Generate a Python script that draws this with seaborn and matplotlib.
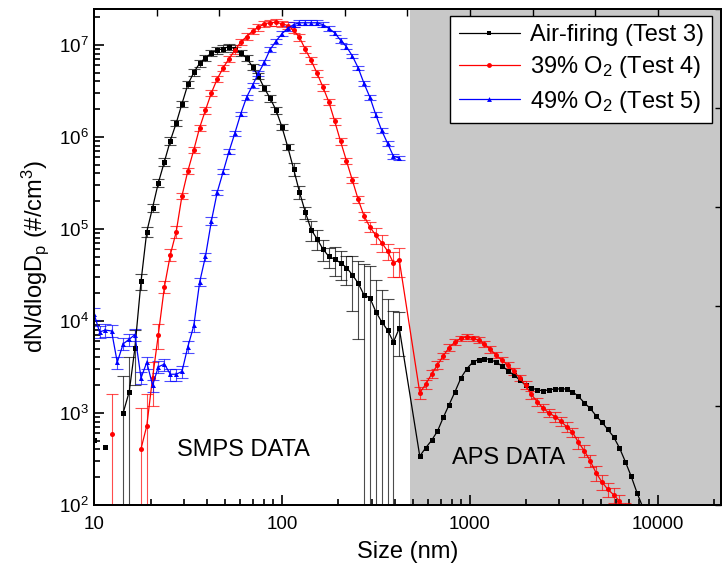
import numpy as np
import pandas as pd
import seaborn as sns
import matplotlib.pyplot as plt
from matplotlib.lines import Line2D
from matplotlib.ticker import NullFormatter, FixedLocator, FixedFormatter

# SMPS channel mid-points (nm), 32 per decade
smps_size = [10.0, 10.7, 11.5, 12.4, 13.3, 14.3, 15.4, 16.5, 17.8, 19.1, 20.5, 22.0, 23.7,
             25.5, 27.4, 29.4, 31.6, 34.0, 36.5, 39.2, 42.2, 45.3, 48.7, 52.3, 56.2, 60.4,
             64.9, 69.8, 75.0, 80.6, 86.6, 93.1, 100.0, 107.5, 115.5, 124.1, 133.4, 143.3,
             154.0, 165.5, 177.8, 191.1, 205.4, 220.7, 237.1, 254.8, 273.8, 294.2, 316.2,
             339.8, 365.2, 392.4, 421.7]
# APS channel mid-points (nm)
aps_size = [542, 583, 626, 673, 723, 777, 835, 898, 965, 1037, 1114, 1197, 1286, 1382,
            1486, 1596, 1715, 1843, 1981, 2129, 2288, 2458, 2642, 2839, 3051, 3278, 3523,
            3786, 4068, 4371, 4698, 5048, 5425, 5829, 6264, 6732, 7234, 7774, 8354, 8977]

nan = np.nan
# log10(dN/dlogDp)
air_smps = [2.70, nan, 2.63, nan, nan, 3.00, 3.23, 3.70, 4.43, 4.97, 5.23, 5.50, 5.73,
            5.96, 6.15, 6.36, 6.57, 6.70, 6.80, 6.86, 6.91, 6.94, 6.96, 6.98, 6.96, 6.91,
            6.86, 6.76, 6.66, 6.53, 6.42, 6.29, 6.11, 5.89, 5.65, 5.40, 5.18, 4.99, 4.89,
            4.78, 4.70, 4.67, 4.63, 4.58, 4.50, 4.41, 4.28, 4.25, 4.10, 3.99, 3.90, 3.77, 3.92]
air_smps_err = [0, 0, 0, 0, 0, 1.5, 1.4, 0.6, 0.2, 0.12, 0.1, 0.1, 0.1,
                0.1, 0.08, 0.08, 0.08, 0.08, 0.08, 0.08, 0.08, 0.08, 0.08, 0.08, 0.08, 0.08,
                0.08, 0.08, 0.08, 0.08, 0.08, 0.08, 0.08, 0.08, 0.15, 0.15, 0.15, 0.25, 0.25,
                0.25, 0.25, 0.35, 0.35, 0.35, 0.6, 0.75, 1.2, 1.2, 1.2, 1.2, 1.2, 1.2, 0.5]
air_aps = [2.53, 2.62, 2.70, 2.80, 2.95, 3.09, 3.23, 3.38, 3.48, 3.55, 3.58, 3.59, 3.58,
           3.55, 3.51, 3.46, 3.41, 3.36, 3.30, 3.27, 3.25, 3.24, 3.25, 3.26, 3.26, 3.26,
           3.23, 3.18, 3.11, 3.05, 2.97, 2.90, 2.82, 2.74, 2.62, 2.47, 2.31, 2.13, 1.97, 1.80]
air_aps_err = [0] * 40

o39_smps = [nan, nan, nan, 2.77, nan, nan, nan, nan, 2.61, 2.86, 3.38, 3.85, 4.37,
            4.72, 4.97, 5.36, 5.63, 5.86, 6.10, 6.29, 6.48, 6.63, 6.75, 6.85, 6.94, 7.03,
            7.09, 7.15, 7.19, 7.23, 7.24, 7.245, 7.23, 7.21, 7.16, 7.08, 6.95, 6.83, 6.69,
            6.54, 6.38, 6.17, 5.95, 5.74, 5.53, 5.32, 5.14, 5.02, 4.93, 4.85, 4.76, 4.63, 4.66]
o39_smps_err = [0, 0, 0, 1.75, 0, 0, 0, 0, 1.75, 1.2, 0.5, 0.3, 0.15,
                0.15, 0.15, 0.08, 0.08, 0.08, 0.08, 0.08, 0.08, 0.08, 0.08, 0.08, 0.08, 0.08,
                0.08, 0.08, 0.08, 0.08, 0.08, 0.08, 0.08, 0.08, 0.08, 0.08, 0.08, 0.08, 0.08,
                0.08, 0.08, 0.08, 0.08, 0.08, 0.08, 0.08, 0.1, 0.12, 0.2, 0.2, 0.2, 0.3, 0.35]
o39_aps = [3.22, 3.31, 3.42, 3.52, 3.62, 3.71, 3.77, 3.81, 3.83, 3.81, 3.79, 3.75, 3.69,
           3.63, 3.57, 3.52, 3.45, 3.38, 3.30, 3.20, 3.12, 3.05, 3.00, 2.96, 2.91, 2.85,
           2.79, 2.68, 2.59, 2.48, 2.35, 2.25, 2.17, 2.11, 2.04, 1.95, 1.85, 1.75, 1.65, 1.55]
o39_aps_err = [0.14, 0.12, 0.1, 0.1, 0.08, 0.08, 0.08, 0.07, 0.07, 0.07, 0.07, 0.07, 0.08,
               0.08, 0.08, 0.08, 0.08, 0.08, 0.1, 0.1, 0.1, 0.1, 0.1, 0.12, 0.12, 0.12,
               0.12, 0.15, 0.15, 0.15, 0.18, 0.18, 0.18, 0.18, 0.18, 0.18, 0.18, 0.18, 0.18, 0.18]

o49_smps = [4.08, 3.88, 3.90, 3.89, 3.55, 3.75, 3.80, 3.85, 3.38, 3.55, 3.30, 3.50, 3.53,
            3.42, 3.42, 3.45, 3.72, 3.95, 4.42, 4.70, 5.09, 5.40, 5.62, 5.84, 6.04, 6.25,
            6.43, 6.56, 6.69, 6.81, 6.95, 7.04, 7.12, 7.18, 7.22, 7.24, 7.24, 7.24, 7.24,
            7.22, 7.18, 7.13, 7.05, 6.98, 6.88, 6.75, 6.58, 6.43, 6.24, 6.07, 5.93, 5.79, 5.77]
o49_smps_err = [0.15] * 18 + [0.1] * 3 + [0.06] * 32

labels = ["Air-firing (Test 3)",
          r"39% O$_\mathregular{2}$ (Test 4)",
          r"49% O$_\mathregular{2}$ (Test 5)"]
colors = ["black", "#ff0000", "#0000ff"]
markers = ["s", "o", "^"]


def frame(sizes, logs, errs):
    df = pd.DataFrame({"size": sizes, "logn": logs, "rel": errs})
    gap = df["logn"].isna()
    df["seg"] = gap.cumsum()
    df = df[~gap].copy()
    df["n"] = 10 ** df["logn"]
    df["err"] = df["n"] * df["rel"]
    return df


series = [
    frame(smps_size + aps_size, air_smps + air_aps, air_smps_err + air_aps_err),
    frame(smps_size + aps_size, o39_smps + o39_aps, o39_smps_err + o39_aps_err),
    frame(smps_size, o49_smps, o49_smps_err),
]

sns.set_theme(style="ticks")
plt.rcParams["font.family"] = ["Liberation Sans", "DejaVu Sans"]
plt.rcParams["mathtext.fontset"] = "custom"
plt.rcParams["mathtext.rm"] = "Liberation Sans"
plt.rcParams["mathtext.default"] = "regular"
plt.rcParams["axes.edgecolor"] = "black"
plt.rcParams["text.color"] = "black"
plt.rcParams["axes.labelcolor"] = "black"
plt.rcParams["xtick.color"] = "black"
plt.rcParams["ytick.color"] = "black"

fig = plt.figure(figsize=(7.23, 5.77), dpi=100)
ax = fig.add_axes([0.130, 0.125, 0.867, 0.8596])
ax.set_xscale("log")
ax.set_yscale("log")
ax.set_xlim(10, 21700)
ax.set_ylim(100, 2.46e7)

# APS region shading
ax.axvspan(480, 1e5, color="#c8c8c8", lw=0, zorder=0)

for df, color, marker in zip(series, colors, markers):
    eb = df[df["rel"] > 0]
    ax.errorbar(eb["size"], eb["n"], yerr=eb["err"], fmt="none", ecolor=color,
                elinewidth=0.8, capsize=4.2, capthick=0.8, alpha=0.7, zorder=2)
    sns.lineplot(data=df, x="size", y="n", units="seg", estimator=None, sort=False,
                 color=color, marker=marker, markersize=3.6, markeredgewidth=0,
                 linewidth=0.9, legend=False, ax=ax, zorder=3)

ax.set_xlabel("Size (nm)", fontsize=17, labelpad=6)
ax.set_ylabel(r"dN/dlogD$_\mathregular{p}$ (#/cm$^\mathregular{3}$)", fontsize=17, labelpad=6)

ax.xaxis.set_major_locator(FixedLocator([10, 100, 1000, 10000]))
ax.xaxis.set_major_formatter(FixedFormatter(["10", "100", "1000", "10000"]))
ax.xaxis.set_minor_formatter(NullFormatter())
ax.yaxis.set_minor_formatter(NullFormatter())
ax.tick_params(which="both", direction="in", labelsize=13.5, width=1.2)
ax.tick_params(which="major", length=7)
ax.tick_params(which="minor", length=4)
ax.tick_params(axis="x", pad=8)
for s in ax.spines.values():
    s.set_linewidth(1.3)

ax.text(62.8, 396, "SMPS DATA", fontsize=17, ha="center", va="center")
ax.text(1610, 324, "APS DATA", fontsize=17, ha="center", va="center")

# top and right axes carry plain evenly spaced ticks
ax_top = ax.twiny()
ax_top.set_xlim(0, 1)
ax_top.set_xticks(np.arange(0.1, 0.95, 0.1))
ax_top.tick_params(axis="x", direction="in", length=5, width=1, labeltop=False)
ax_right = ax.twinx()
ax_right.set_ylim(0, 1)
ax_right.set_yticks(np.arange(0.097, 0.95, 0.104))
ax_right.tick_params(axis="y", direction="in", length=4, width=1, labelright=False)
ax_right.set_yscale("linear")
for a in (ax_top, ax_right):
    for s in a.spines.values():
        s.set_linewidth(1.3)

handles = [Line2D([], [], color=c, marker=m, markersize=3.5, markeredgewidth=0, lw=0.9)
           for c, m in zip(colors, markers)]
leg = ax_right.legend(handles, labels, loc="upper right", bbox_to_anchor=(0.9856, 0.986),
                      borderaxespad=0, frameon=True, fancybox=False, edgecolor="black",
                      framealpha=1, fontsize=17, handlelength=2.6, borderpad=0.35,
                      labelspacing=0.35, handletextpad=0.4)
leg.get_frame().set_linewidth(1.0)

fig.savefig("out.png", dpi=100)
